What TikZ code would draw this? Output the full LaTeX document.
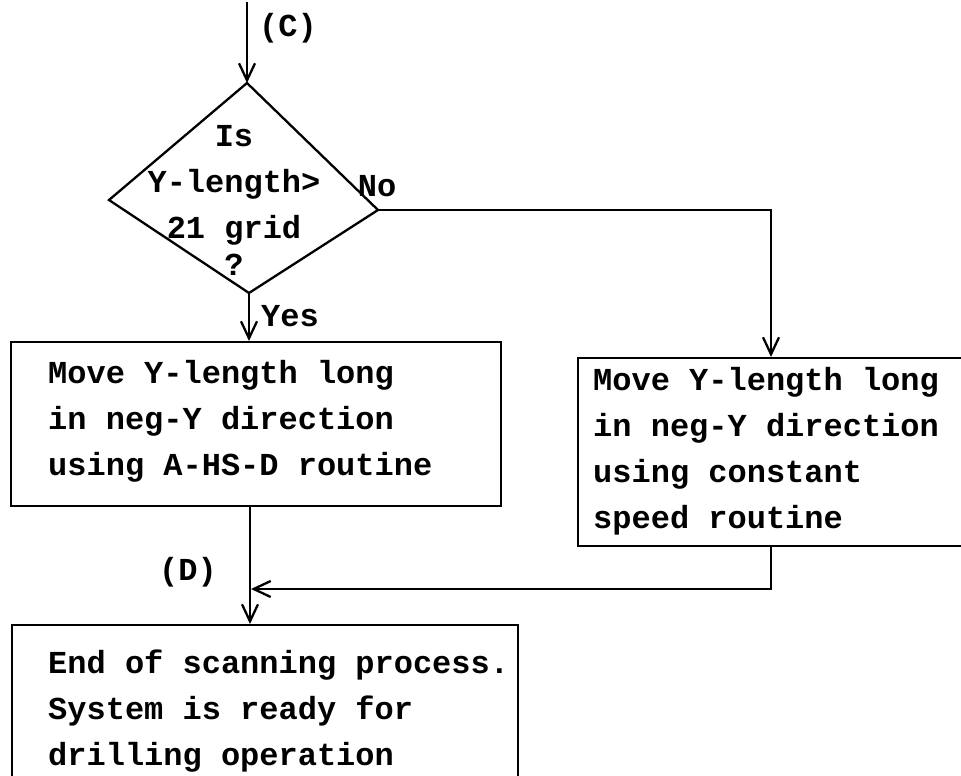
\documentclass[tikz,border=0pt]{standalone}
\usepackage{fontspec}
\setmonofont{Liberation Mono}
\usetikzlibrary{arrows.meta}
\begin{document}
\begin{tikzpicture}[x=1pt,y=-1pt,
  line/.style={line width=2.3pt, line join=miter},
  arr/.style={line, -{Straight Barb[length=17pt,width=16pt,line width=2.3pt]}},
  box/.style={draw, line width=2.3pt, inner sep=0pt, anchor=north west},
  txt/.style={font=\fontsize{32}{46}\selectfont\ttfamily\bfseries, inner sep=0pt, align=left, anchor=base west},
  lbl/.style={font=\fontsize{32}{46}\selectfont\ttfamily\bfseries, inner sep=0pt}
]
\useasboundingbox[fill=white] (0,0) rectangle (961,776);

% decision diamond
\coordinate (dt) at (247,83);
\coordinate (dl) at (109,200);
\coordinate (dr) at (378,210);
\coordinate (db) at (249,293);
\draw[line] (dt) -- (dr) -- (db) -- (dl) -- cycle;
\node[lbl, align=center, anchor=base] (dq) at (234,275)
  {Is\\Y-length>\\21 grid\\[-9pt]?};

% entry connector (C)
\coordinate (cin) at (247,2);
\draw[arr] (cin) -- (dt);
\node[lbl] (lc) at (288,28) {(C)};

% process boxes
\node[box, minimum width=490pt, minimum height=164pt] (b1) at (10,341) {};
\node[txt] (t1) at (48,475)
  {Move Y-length long\\in neg-Y direction\\using A-HS-D routine};

\node[box, minimum width=386pt, minimum height=188pt] (b2) at (577,357) {};
\node[txt] (t2) at (593,528)
  {Move Y-length long\\in neg-Y direction\\using constant\\speed routine};

\node[box, minimum width=506pt, minimum height=200pt] (b3) at (11,624) {};
\node[txt] (t3) at (48,765)
  {End of scanning process.\\System is ready for\\drilling operation};

% branch connectors
\coordinate (rc) at (771,0);
\draw[arr] (db) -- (db |- b1.north);
\node[lbl] (yes) at (290,316) {Yes};
\draw[arr] (dr) -| (rc |- b2.north);
\node[lbl] (no) at (377,186) {No};

% merge at (D)
\coordinate (mx) at (250,0);
\coordinate (mrg) at (251,589);
\draw[arr] (mx |- b1.south) -- (mx |- b3.north);
\draw[arr] (rc |- b2.south) |- (mrg);
\node[lbl] (ld) at (188,572) {(D)};
\end{tikzpicture}
\end{document}
